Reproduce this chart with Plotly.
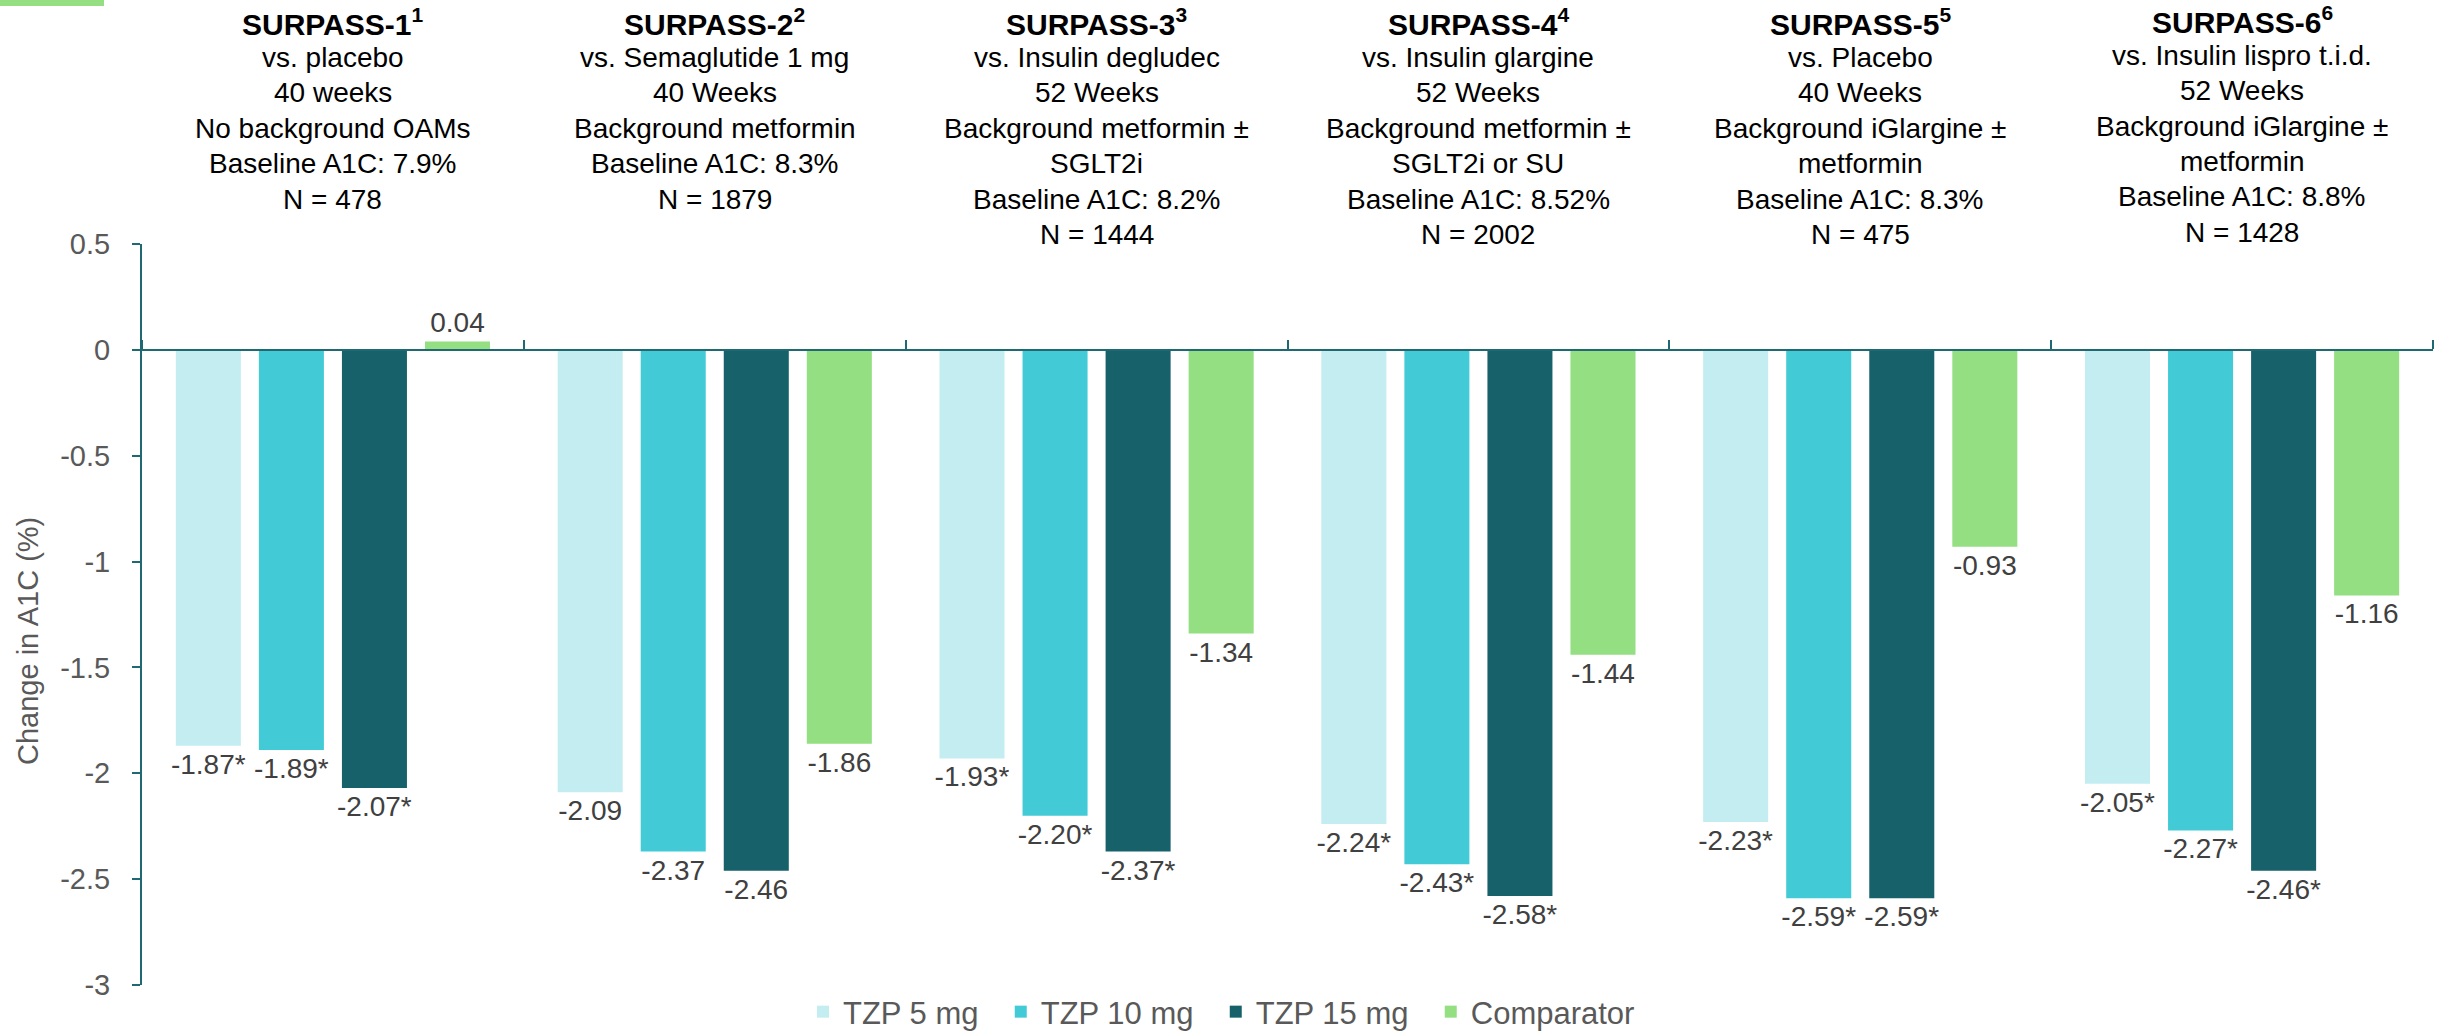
import plotly.graph_objects as go

# ---- data ----
groups = [0, 1, 2, 3, 4, 5]
header_titles = ["SURPASS-1", "SURPASS-2", "SURPASS-3", "SURPASS-4", "SURPASS-5", "SURPASS-6"]
header_refs = ["1", "2", "3", "4", "5", "6"]
header_lines = [
    ["vs. placebo", "40 weeks", "No background OAMs", "Baseline A1C: 7.9%", "N = 478"],
    ["vs. Semaglutide 1 mg", "40 Weeks", "Background metformin", "Baseline A1C: 8.3%", "N = 1879"],
    ["vs. Insulin degludec", "52 Weeks", "Background metformin ±", "SGLT2i", "Baseline A1C: 8.2%", "N = 1444"],
    ["vs. Insulin glargine", "52 Weeks", "Background metformin ±", "SGLT2i or SU", "Baseline A1C: 8.52%", "N = 2002"],
    ["vs. Placebo", "40 Weeks", "Background iGlargine ±", "metformin", "Baseline A1C: 8.3%", "N = 475"],
    ["vs. Insulin lispro t.i.d.", "52 Weeks", "Background iGlargine ±", "metformin", "Baseline A1C: 8.8%", "N = 1428"],
]

series_names = ["TZP 5 mg", "TZP 10 mg", "TZP 15 mg", "Comparator"]
tzp5 = [-1.87, -2.09, -1.93, -2.24, -2.23, -2.05]
tzp10 = [-1.89, -2.37, -2.20, -2.43, -2.59, -2.27]
tzp15 = [-2.07, -2.46, -2.37, -2.58, -2.59, -2.46]
comparator = [0.04, -1.86, -1.34, -1.44, -0.93, -1.16]

tzp5_labels = ["-1.87*", "-2.09", "-1.93*", "-2.24*", "-2.23*", "-2.05*"]
tzp10_labels = ["-1.89*", "-2.37", "-2.20*", "-2.43*", "-2.59*", "-2.27*"]
tzp15_labels = ["-2.07*", "-2.46", "-2.37*", "-2.58*", "-2.59*", "-2.46*"]
comparator_labels = ["0.04", "-1.86", "-1.34", "-1.44", "-0.93", "-1.16"]

ytick_vals = [0.5, 0, -0.5, -1, -1.5, -2, -2.5, -3]
ytick_text = ["0.5", "0", "-0.5", "-1", "-1.5", "-2", "-2.5", "-3"]
boundary_ticks = [-0.5, 0.5, 1.5, 2.5, 3.5, 4.5, 5.5]
y_title = "Change in A1C (%)"

colors = ["#C3EDF0", "#42CBD6", "#17616A", "#93DF81"]
axis_color = "#1F6A72"
FONT = "Liberation Sans, Arial, sans-serif"

W, H = 2446, 1032
M_L, M_R, M_T, M_B = 142, 13, 244, 47
PLOT_W = W - M_L - M_R
PLOT_H = H - M_T - M_B


def py(ypx):
    """pixel row (from top of figure) -> paper y"""
    return (H - M_B - ypx) / PLOT_H


def px(xpx):
    """pixel column (from left of figure) -> paper x"""
    return (xpx - M_L) / PLOT_W


fig = go.Figure()
for name, vals, labs, col in zip(series_names, [tzp5, tzp10, tzp15, comparator],
                                 [tzp5_labels, tzp10_labels, tzp15_labels, comparator_labels], colors):
    fig.add_trace(go.Bar(
        x=groups, y=vals, name=name + "&nbsp;&nbsp;", marker=dict(color=col, line=dict(width=0)),
        text=labs, textposition="outside", constraintext="none", cliponaxis=False,
        textfont=dict(family=FONT, size=28, color="#404040"),
    ))

ymin, ymax = -3, 0.5
fig.update_layout(
    width=W, height=H,
    margin=dict(l=M_L, r=M_R, t=M_T, b=M_B, autoexpand=False),
    paper_bgcolor="white", plot_bgcolor="white",
    barmode="group", bargap=0.13, bargroupgap=0.217,
    font=dict(family=FONT, color="#595959"),
    showlegend=True,
    legend=dict(orientation="h", x=px(1230), xanchor="center", y=py(1012), yanchor="middle",
                font=dict(family=FONT, size=31, color="#595959"), traceorder="normal"),
    xaxis=dict(range=[-0.5, 5.5], anchor="free", position=(0 - ymin) / (ymax - ymin),
               side="top", showline=True, linecolor=axis_color, linewidth=2,
               tickmode="array", tickvals=boundary_ticks, ticks="outside", ticklen=9,
               tickwidth=2, tickcolor=axis_color, showticklabels=False,
               showgrid=False, zeroline=False),
    yaxis=dict(range=[ymin, ymax], tickmode="array", tickvals=ytick_vals, ticktext=ytick_text,
               ticks="outside", ticklen=8, tickwidth=2, tickcolor=axis_color,
               showline=True, linecolor=axis_color, linewidth=2,
               showgrid=False, zeroline=False, ticklabelstandoff=16,
               tickfont=dict(family=FONT, size=29, color="#595959")),
)

# group headers, one annotation per line (tight line pitch as in the slide)
LINE_PITCH = 35.4
for g, title, ref, lines in zip(groups, header_titles, header_refs, header_lines):
    top = 22 if g < 5 else 20
    fig.add_annotation(x=g, xref="x", y=py(top), yref="paper",
                       text="<b>%s<sup>%s</sup></b>" % (title, ref), showarrow=False,
                       xanchor="center", yanchor="middle",
                       font=dict(family=FONT, size=30, color="black"))
    for k, line in enumerate(lines, start=1):
        fig.add_annotation(x=g, xref="x", y=py(top + k * LINE_PITCH), yref="paper",
                           text=line, showarrow=False, xanchor="center", yanchor="middle",
                           font=dict(family=FONT, size=28, color="black"))

# y-axis title
fig.add_annotation(x=px(28), xref="paper", y=py(641), yref="paper",
                   text=y_title, textangle=-90, showarrow=False,
                   xanchor="center", yanchor="middle",
                   font=dict(family=FONT, size=29, color="#595959"))

# decorative slide accent at top-left
fig.add_shape(type="rect", xref="paper", yref="paper",
              x0=px(0), x1=px(104), y0=py(6), y1=py(0),
              fillcolor="#93DF81", line=dict(width=0), layer="above")

fig.write_html("out.html", config={"displayModeBar": False},
               post_script="document.body.style.margin='0';document.body.style.padding='0';")
